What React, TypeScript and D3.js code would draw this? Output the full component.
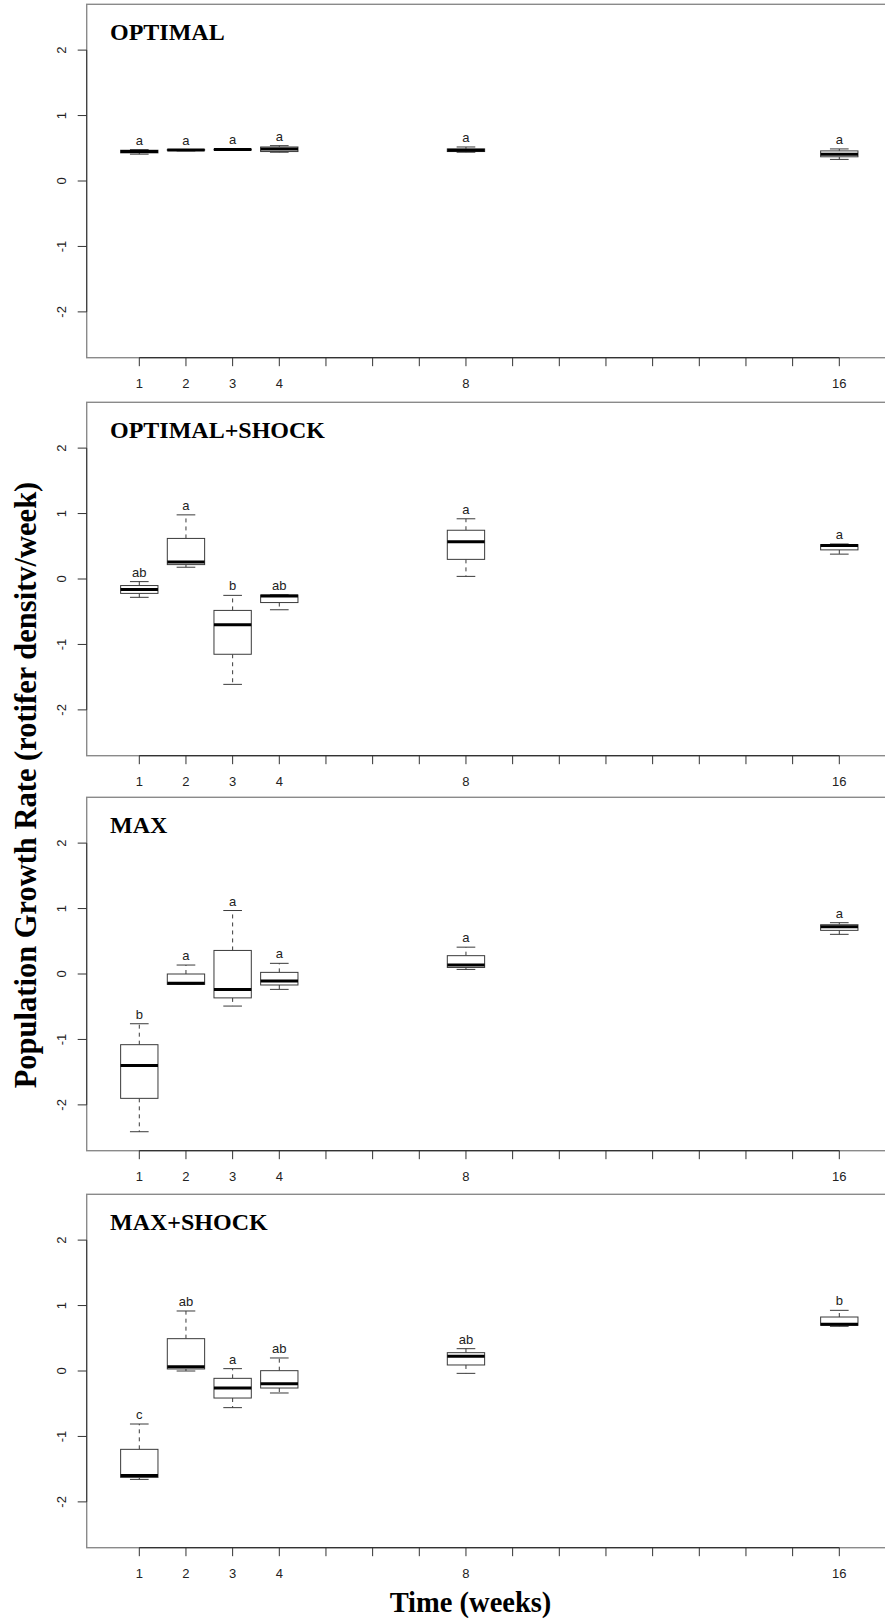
import React from "react";
import * as d3 from "d3";

// ---- data ----
const weeks = [1, 2, 3, 4, 8, 16];
const xTickValues = d3.range(1, 17);
const xTickLabels = [1, 2, 3, 4, 8, 16];
const yTickValues = [-2, -1, 0, 1, 2];
const panelTitles = ["OPTIMAL", "OPTIMAL+SHOCK", "MAX", "MAX+SHOCK"];

// [min, q1, median, q3, max] per week
const optimalStats = [
  [0.41, 0.43, 0.45, 0.47, 0.48],
  [0.46, 0.47, 0.475, 0.48, 0.48],
  [0.47, 0.475, 0.48, 0.485, 0.49],
  [0.44, 0.45, 0.49, 0.52, 0.54],
  [0.44, 0.45, 0.47, 0.49, 0.52],
  [0.33, 0.37, 0.41, 0.46, 0.49],
];
const optimalShockStats = [
  [-0.28, -0.22, -0.16, -0.1, -0.04],
  [0.18, 0.22, 0.26, 0.62, 0.98],
  [-1.61, -1.15, -0.7, -0.48, -0.25],
  [-0.47, -0.36, -0.26, -0.245, -0.24],
  [0.04, 0.3, 0.57, 0.745, 0.92],
  [0.38, 0.445, 0.51, 0.525, 0.535],
];
const maxStats = [
  [-2.41, -1.9, -1.4, -1.08, -0.76],
  [-0.16, -0.158, -0.14, 0.0, 0.137],
  [-0.49, -0.365, -0.235, 0.36, 0.97],
  [-0.235, -0.168, -0.107, 0.025, 0.163],
  [0.07, 0.1, 0.137, 0.28, 0.41],
  [0.606, 0.667, 0.723, 0.753, 0.784],
];
const maxShockStats = [
  [-1.656, -1.626, -1.595, -1.197, -0.81],
  [0.0, 0.031, 0.066, 0.494, 0.917],
  [-0.56, -0.413, -0.26, -0.112, 0.036],
  [-0.336, -0.26, -0.194, 0.005, 0.199],
  [-0.036, 0.092, 0.224, 0.28, 0.341],
  [0.683, 0.698, 0.713, 0.825, 0.927],
];
const panelStats = [optimalStats, optimalShockStats, maxStats, maxShockStats];

const optimalLetters = ["a", "a", "a", "a", "a", "a"];
const optimalShockLetters = ["ab", "a", "b", "ab", "a", "a"];
const maxLetters = ["b", "a", "a", "a", "a", "a"];
const maxShockLetters = ["c", "ab", "a", "ab", "ab", "b"];
const panelLetters = [optimalLetters, optimalShockLetters, maxLetters, maxShockLetters];

// ---- layout ----
const W = 885;
const H = 1623;
const panelTops = [4.3, 402.3, 797.3, 1194.3];
const panelH = 353.4;
const plotLeft = 86.7;
const plotRight = 895;
const sans = "'Liberation Sans', Arial, Helvetica, sans-serif";
const serif = "'Liberation Serif', 'Times New Roman', serif";

const x = d3.scaleLinear().domain([1, 16]).range([139.3, 839.3]);
const boxHalf = x(1.4) - x(1); // boxwex 0.8
const capHalf = boxHalf / 2;

function Panel({ idx }: { idx: number }) {
  const top = panelTops[idx];
  const bottom = top + panelH;
  const y = d3.scaleLinear().domain([-2.7, 2.7]).range([bottom, top]);
  const stats = panelStats[idx];
  const letters = panelLetters[idx];
  const lineCol = "#3a3a3a";
  return (
    <g>
      <rect x={plotLeft} y={top} width={plotRight - plotLeft} height={panelH}
        fill="none" stroke="#8a8a8a" strokeWidth={1.4} />
      <line x1={plotLeft} x2={plotLeft} y1={y(-2)} y2={y(2)} stroke="#333" strokeWidth={1} />
      {yTickValues.map((v) => (
        <g key={"yt" + v}>
          <line x1={plotLeft - 9} x2={plotLeft} y1={y(v)} y2={y(v)} stroke="#333" strokeWidth={1} />
          <text transform={`translate(65.5,${y(v)}) rotate(-90)`} textAnchor="middle"
            fontFamily={sans} fontSize={13} fill="#222">{String(v)}</text>
        </g>
      ))}
      <line x1={x(1)} x2={x(16)} y1={bottom} y2={bottom} stroke="#333" strokeWidth={1.2} />
      {xTickValues.map((v) => (
        <line key={"xt" + v} x1={x(v)} x2={x(v)} y1={bottom} y2={bottom + 8.5} stroke="#333" strokeWidth={1} />
      ))}
      {xTickLabels.map((v) => (
        <text key={"xl" + v} x={x(v)} y={bottom + 30} textAnchor="middle"
          fontFamily={sans} fontSize={13} fill="#222">{String(v)}</text>
      ))}
      <text x={110} y={top + 36} fontFamily={serif} fontWeight="bold" fontSize={24} fill="#000">
        {panelTitles[idx]}
      </text>
      {weeks.map((wk, i) => {
        const [mn, q1, md, q3, mx] = stats[i];
        const cx = x(wk);
        return (
          <g key={"b" + wk}>
            <line x1={cx} x2={cx} y1={y(q3)} y2={y(mx)} stroke={lineCol} strokeDasharray="4,4" strokeWidth={1} />
            <line x1={cx} x2={cx} y1={y(q1)} y2={y(mn)} stroke={lineCol} strokeDasharray="4,4" strokeWidth={1} />
            <line x1={cx - capHalf} x2={cx + capHalf} y1={y(mx)} y2={y(mx)} stroke={lineCol} strokeWidth={1} />
            <line x1={cx - capHalf} x2={cx + capHalf} y1={y(mn)} y2={y(mn)} stroke={lineCol} strokeWidth={1} />
            <rect x={cx - boxHalf} y={y(q3)} width={boxHalf * 2} height={Math.max(0.5, y(q1) - y(q3))}
              fill="#fff" stroke={lineCol} strokeWidth={1} />
            <line x1={cx - boxHalf} x2={cx + boxHalf} y1={y(md)} y2={y(md)} stroke="#000" strokeWidth={3} />
            <text x={cx} y={y(mx) - 5} textAnchor="middle" fontFamily={sans} fontSize={13} fill="#222">
              {letters[i]}
            </text>
          </g>
        );
      })}
    </g>
  );
}

export default function App() {
  return (
    <svg width={W} height={H} viewBox={`0 0 ${W} ${H}`}
      style={{ position: "absolute", left: 0, top: 0, display: "block", background: "#fff" }}>
      <rect x={0} y={0} width={W} height={H} fill="#fff" />
      {[0, 1, 2, 3].map((i) => <Panel key={i} idx={i} />)}
      <text transform="translate(35.5,785) rotate(-90)" textAnchor="middle"
        fontFamily={serif} fontWeight="bold" fontSize={30.5} fill="#000">
        Population Growth Rate (rotifer densitv/week)
      </text>
      <text x={470.5} y={1612} textAnchor="middle" fontFamily={serif} fontWeight="bold" fontSize={28.5} fill="#000">
        Time (weeks)
      </text>
    </svg>
  );
}
